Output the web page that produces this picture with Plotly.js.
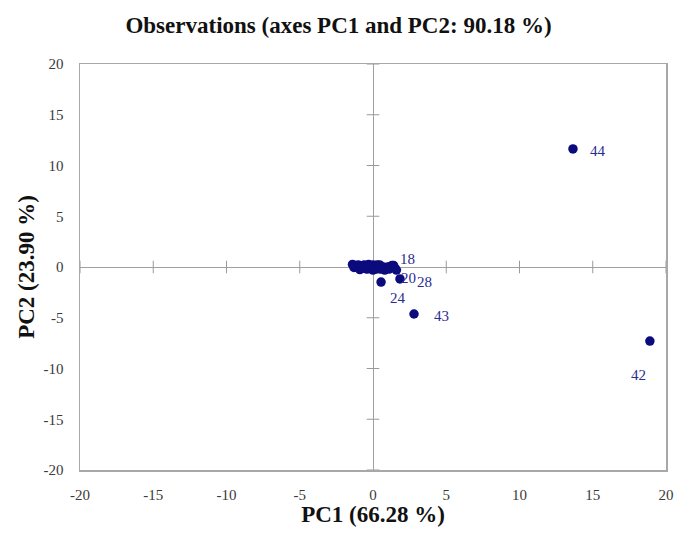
<!DOCTYPE html>
<html>
<head>
<meta charset="utf-8">
<script src="https://cdn.plot.ly/plotly-3.0.1.min.js"></script>
<style>html,body{margin:0;padding:0;background:#fff;}</style>
</head>
<body>
<div id="chart" style="width:677px;height:534px;"></div>
<script>
// Observation scores on PC1 / PC2
const obsLabels = ["1","2","3","4","5","6","7","8","9","10","11","12","13","14","15","16","17","18","19","20","21","22","23","24","25","26","27","28","29","30","31","32","33","34","35","36","37","38","39","40","41","42","43","44"];
const pc1 = [-1.4,-1.2,-1.0,-0.9,-0.8,-0.6,-0.5,-0.3,-0.2,0.0,0.1,0.2,1.3,0.4,0.5,-1.1,-0.7,1.4,0.9,1.6,0.7,-0.4,0.3,0.55,-1.3,-0.9,0.6,1.84,-0.1,1.0,1.2,-0.6,0.8,-1.0,0.2,-0.3,0.45,1.1,-0.8,1.5,0.0,18.9,2.8,13.65];
const pc2 = [0.25,0.15,0.2,-0.1,0.1,0.2,-0.15,0.25,0.1,0.2,-0.05,0.15,0.15,0.1,-0.2,0.0,0.05,0.15,-0.15,-0.3,0.0,-0.2,0.2,-1.48,-0.05,-0.25,-0.1,-1.18,0.0,0.0,0.05,-0.1,-0.3,0.1,-0.2,0.05,0.2,-0.2,-0.05,-0.1,-0.3,-7.3,-4.63,11.63];
// labels that are drawn on the chart
const shownLabels = ["18","20","24","28","42","43","44"];
const axisTicks = [-20,-15,-10,-5,0,5,10,15,20];
const tickText = ["-20","-15","-10","-5","0","5","10","15","20"];

// label offsets in pixels (style only)
const labelShift = {"18":[14,6],"20":[12,-8],"24":[17,-16],"28":[25,-3],"42":[-11,-34],"43":[27,-2],"44":[25,-2]};

const navy = "#0b0b7e";
const serif = "'Liberation Serif', 'Times New Roman', serif";

const annotations = [];
obsLabels.forEach((l, i) => {
  if (!shownLabels.includes(l)) return;
  const s = labelShift[l];
  annotations.push({
    x: pc1[i], y: pc2[i], xref: "x", yref: "y", text: l, showarrow: false,
    xanchor: "center", yanchor: "middle", xshift: s[0], yshift: s[1],
    font: {family: serif, size: 15, color: "#2b2b8f"}
  });
});

const traces = [
  {
    type: "scatter", mode: "markers",
    x: axisTicks, y: axisTicks.map(() => 0),
    marker: {symbol: "line-ns-open", size: 9, color: "#9a9a9a", line: {color: "#9a9a9a", width: 1}},
    hoverinfo: "skip", showlegend: false
  },
  {
    type: "scatter", mode: "markers",
    x: axisTicks.map(() => 0), y: axisTicks,
    marker: {symbol: "line-ew-open", size: 9, color: "#9a9a9a", line: {color: "#9a9a9a", width: 1}},
    hoverinfo: "skip", showlegend: false
  },
  {
    type: "scatter", mode: "markers",
    x: pc1, y: pc2, text: obsLabels,
    marker: {color: navy, size: 9.5},
    showlegend: false
  }
];

function axisCommon() {
  return {
    range: [-20, 20], tickvals: axisTicks, ticktext: tickText, ticks: "", showgrid: false,
    zeroline: true, zerolinecolor: "#a0a0a0", zerolinewidth: 1,
    showline: true, linecolor: "#a8a8a8", linewidth: 1.5, mirror: true,
    tickfont: {family: serif, size: 15, color: "#3a3a3a"}
  };
}

const layout = {
  width: 677, height: 534,
  font: {family: serif},
  margin: {l: 80, r: 11, t: 64, b: 64},
  paper_bgcolor: "#fff", plot_bgcolor: "#fff",
  title: {text: "<b>Observations (axes PC1 and PC2: 90.18 %)</b>", x: 0.5, xanchor: "center", y: 0.953, yanchor: "middle",
          font: {family: serif, size: 23, color: "#111"}},
  xaxis: Object.assign(axisCommon(), {
    ticklabelstandoff: 10,
    title: {text: "<b>PC1 (66.28 %)</b>", font: {family: serif, size: 23, color: "#111"}, standoff: 4}
  }),
  yaxis: Object.assign(axisCommon(), {
    ticklabelstandoff: 12,
    title: {text: "<b>PC2 (23.90 %)</b>", font: {family: serif, size: 23, color: "#111"}, standoff: 2}
  }),
  annotations: annotations
};

Plotly.newPlot("chart", traces, layout, {displayModeBar: false, staticPlot: true});
</script>
</body>
</html>
